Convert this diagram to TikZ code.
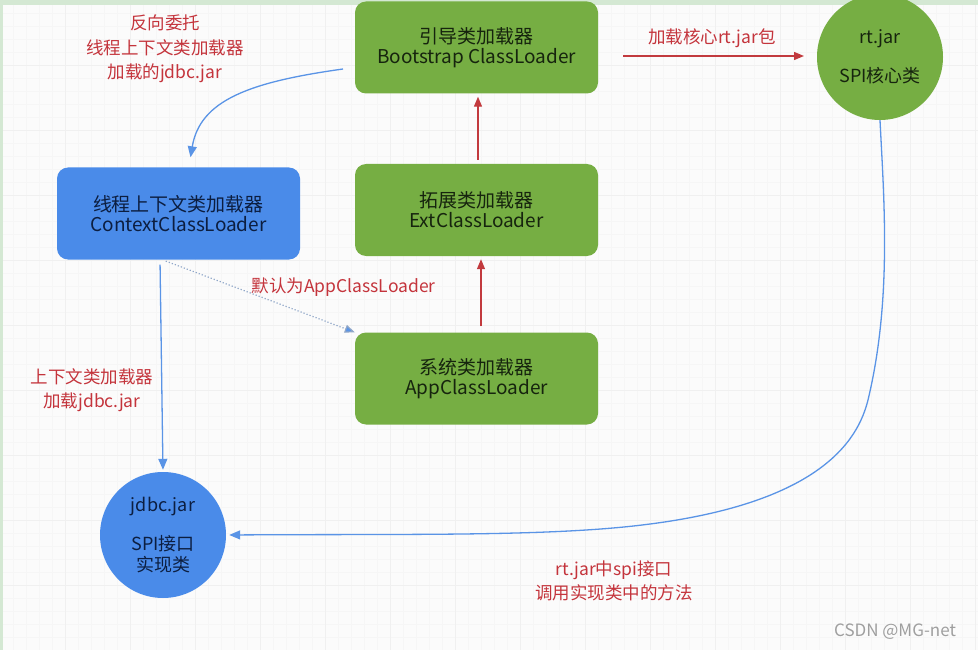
\documentclass[tikz,border=0pt]{standalone}
\usepackage{fontspec}
\setmainfont{Noto Sans CJK SC}
\usetikzlibrary{arrows.meta,calc}
\definecolor{gfill}{HTML}{76AE43}
\definecolor{bfill}{HTML}{4A8BE9}
\definecolor{gtxt}{HTML}{16240E}
\definecolor{btxt}{HTML}{0C1E40}
\definecolor{rtxt}{HTML}{C4343C}
\definecolor{rline}{HTML}{C23A3E}
\definecolor{bline}{HTML}{5A94E6}
\definecolor{dline}{HTML}{8FA6C8}
\definecolor{bandc}{HTML}{D4E8D3}
\begin{document}
\begin{tikzpicture}[x=1pt,y=-1pt,
  loader/.style={rounded corners=11pt, minimum width=243pt, minimum height=92pt,
    align=center, font=\fontsize{19}{20}\selectfont, inner sep=0pt},
  gbox/.style={loader, fill=gfill, text=gtxt},
  bbox/.style={loader, fill=bfill, text=btxt},
  ball/.style={circle, minimum size=126pt, inner sep=0pt, align=center,
    font=\fontsize{18}{21}\selectfont},
  lab/.style={text=rtxt, align=center, font=\fontsize{17.5}{24.5}\selectfont},
  redarrow/.style={draw=rline, line width=1.3pt, -{Triangle[length=10pt,width=8pt]}},
  bluearrow/.style={draw=bline, line width=1.3pt, -{Triangle[length=11pt,width=9pt]}}
]
\useasboundingbox (0,0) rectangle (978,650);
\fill[white!97!gray] (0,0) rectangle (978,650);
\draw[gray!7, line width=0.4pt] (0,0) grid[step=13pt] (978,650);
\draw[gray!12, line width=0.5pt] (0,0) grid[step=65pt] (978,650);
\fill[bandc] (0,0) rectangle (978,5);
\fill[bandc] (0,0) rectangle (3,650);

% nodes
\node[gbox] (boot) at (476.5,47.5) {引导类加载器\\Bootstrap ClassLoader};
\node[gbox] (ext) at (476.5,210) {拓展类加载器\\ExtClassLoader};
\node[gbox] (app) at (476.5,378.5) {系统类加载器\\AppClassLoader};
\node[bbox] (ctx) at (178.5,213.5) {线程上下文类加载器\\ContextClassLoader};
\node[ball, fill=gfill, text=gtxt] (rt) at (880,57) {rt.jar\\[18pt]SPI核心类};
\node[ball, fill=bfill, text=btxt] (jdbc) at (163,535) {jdbc.jar\\[18pt]SPI接口\\[0pt]实现类};

% labels
\node[lab] (l1) at (165,49) {反向委托\\线程上下文类加载器\\加载的jdbc.jar};
\node[lab] (l2) at (712,38) {加载核心rt.jar包};
\node[lab, anchor=west] (l3) at (248,287) {默认为AppClassLoader};
\node[lab] (l4) at (92,390) {上下文类加载器\\加载jdbc.jar};
\node[lab] (l5) at (614,581) {rt.jar中spi接口\\调用实现类中的方法};
\node[text=gray!75, font=\fontsize{17}{18}\selectfont] (wm) at (895,632) {CSDN @MG-net};

% connectors
\coordinate (rtin) at (804,56);
\draw[redarrow] (boot.east |- rtin) ++(25,0) coordinate (bootout) -- (rtin);
\draw[redarrow, shorten <=4pt, shorten >=3pt] (ext.north -| 478,0) -- (boot.south -| 478,0);
\draw[redarrow, shorten <=6pt, shorten >=3pt] (app.north -| 481,0) -- (ext.south -| 481,0);

\coordinate (bs) at (343,69);
\draw[bluearrow] (bs) .. controls (250,82) and (200,100) .. ($(ctx.north)+(12,-10)$);
\draw[bluearrow, shorten <=5pt, shorten >=2pt] (ctx.south -| 160,0) -- (jdbc.north);
\draw[draw=dline, line width=1.2pt, dotted, shorten <=4pt,
  -{Triangle[length=10pt,width=8pt,fill=bline]}] (ctx.south -| 162,0) -- (app.north west);
\draw[bluearrow, shorten >=3pt]
  (rt.south) .. controls (884,200) and (892,300) .. (868,400)
  .. controls (858,440) and (820,510) .. (613,528)
  .. controls (520,536) and (400,534) .. (jdbc.east);
\end{tikzpicture}
\end{document}
